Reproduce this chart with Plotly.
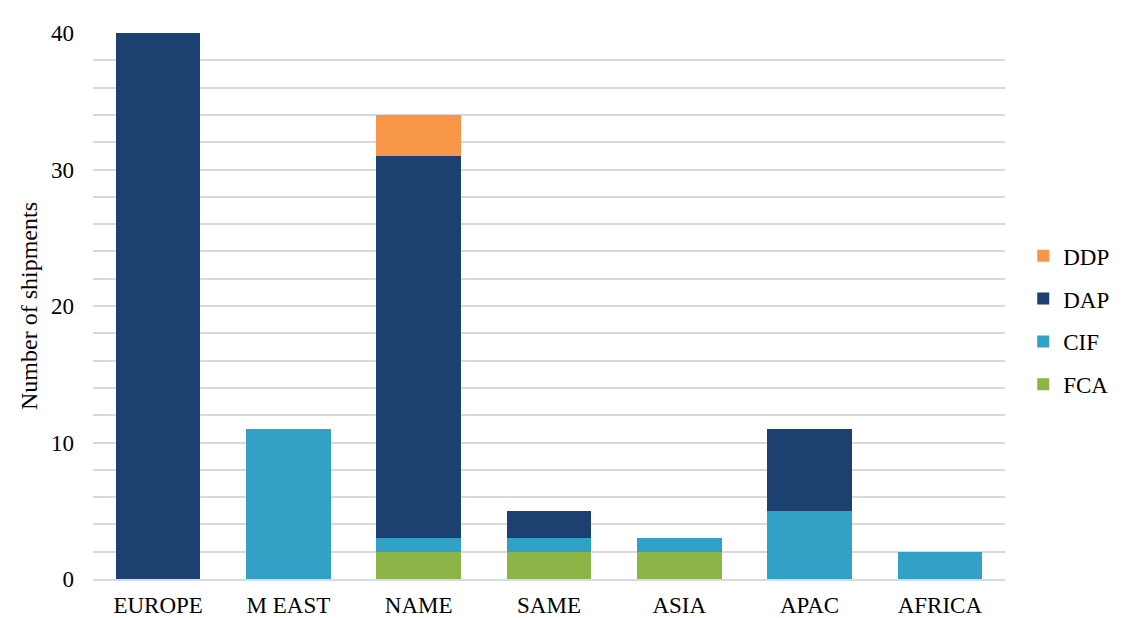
import plotly.graph_objects as go

categories = ["EUROPE", "M EAST", "NAME", "SAME", "ASIA", "APAC", "AFRICA"]
fca = [0, 0, 2, 2, 2, 0, 0]
cif = [0, 11, 1, 1, 1, 5, 2]
dap = [40, 0, 28, 2, 0, 6, 0]
ddp = [0, 0, 3, 0, 0, 0, 0]

series = [
    ("FCA", fca, "#8db446", 4),
    ("CIF", cif, "#31a2c5", 3),
    ("DAP", dap, "#1c4170", 2),
    ("DDP", ddp, "#f79646", 1),
]

fig = go.Figure()
for name, vals, color, rank in series:
    fig.add_trace(go.Bar(
        x=categories, y=vals, name=name, legendgroup=name, legendrank=rank,
        marker=dict(color=color, line=dict(width=0)),
    ))

font = "Liberation Serif"
fig.update_layout(
    barmode="stack",
    bargap=0.35,
    width=1121, height=618,
    margin=dict(l=93, r=116, t=33, b=39, autoexpand=False),
    plot_bgcolor="white", paper_bgcolor="white",
    font=dict(family=font, size=24, color="#000000"),
    legend=dict(
        traceorder="grouped", x=1.02, y=0.474, yanchor="middle", xanchor="left",
        font=dict(family=font, size=23, color="#000000"), tracegroupgap=10,
        itemwidth=30,
    ),
    yaxis=dict(
        range=[0, 40], tickvals=[0, 10, 20, 30, 40],
        showgrid=False, zeroline=False, ticks="", ticklabelstandoff=18,
        automargin=False,
        tickfont=dict(family=font, size=23),
        title=dict(text="Number of shipments", font=dict(family=font, size=24), standoff=6),
        minor=dict(dtick=2, tick0=0, showgrid=True, gridcolor="#d9d9d9", gridwidth=2),
    ),
    xaxis=dict(
        showline=True, linecolor="#d0dcec", linewidth=2, ticks="",
        ticklabelstandoff=4, automargin=False,
        tickfont=dict(family=font, size=23),
    ),
)

fig.write_html("out.html")
